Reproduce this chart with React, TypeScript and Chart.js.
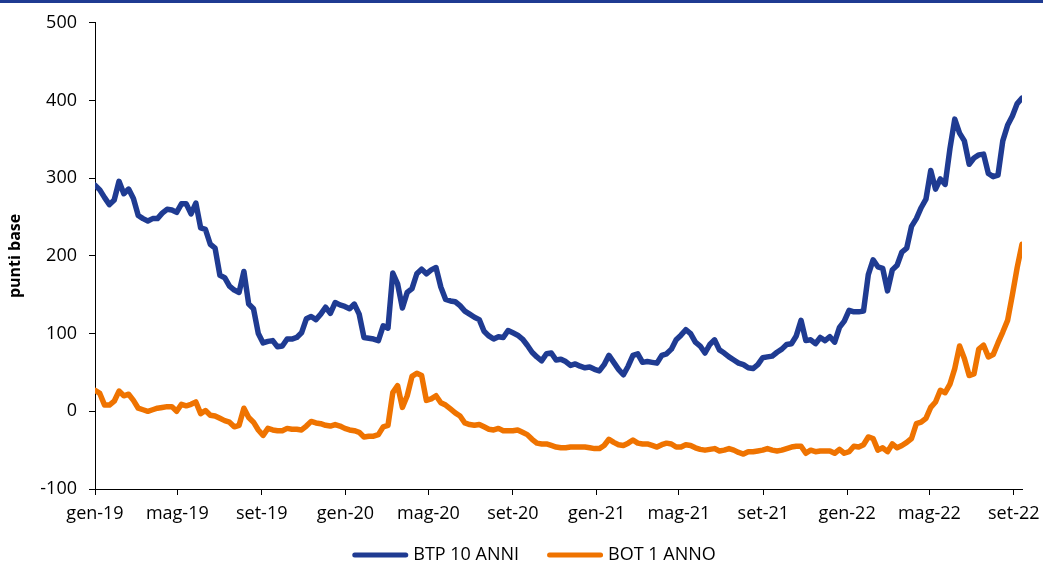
import React, { useEffect, useRef } from "react";
import { Chart, registerables } from "chart.js";

Chart.register(...registerables);

// Weekly observations starting from this date
const START_DATE = "2019-01-01";
const AXIS_END_DATE = "2022-09-13";

const TICK_DATES = [
  "2019-01-01", "2019-05-01", "2019-09-01", "2020-01-01", "2020-05-01", "2020-09-01",
  "2021-01-01", "2021-05-01", "2021-09-01", "2022-01-01", "2022-05-01", "2022-09-01",
];
const TICK_LABELS = [
  "gen-19", "mag-19", "set-19", "gen-20", "mag-20", "set-20",
  "gen-21", "mag-21", "set-21", "gen-22", "mag-22", "set-22",
];

const SERIES_LABELS = ["BTP 10 ANNI", "BOT 1 ANNO"];

const BTP_10Y = [
  291, 285, 275, 266, 272, 296, 280, 286, 274, 252,
  248, 245, 248, 248, 255, 260, 259, 256, 267, 267,
  254, 268, 236, 234, 215, 210, 175, 172, 161, 156,
  153, 180, 138, 132, 100, 88, 90, 91, 83, 84,
  93, 93, 95, 101, 119, 122, 118, 125, 134, 126,
  140, 137, 135, 132, 138, 125, 95, 94, 93, 91,
  110, 107, 178, 164, 133, 153, 158, 177, 183, 177,
  182, 185, 160, 144, 142, 141, 136, 129, 125, 121,
  118, 103, 97, 93, 96, 95, 104, 101, 98, 93,
  85, 76, 70, 65, 74, 75, 66, 67, 64, 59,
  61, 58, 56, 57, 54, 52, 60, 72, 63, 54,
  47, 58, 72, 74, 63, 64, 63, 62, 72, 74,
  80, 92, 98, 105, 100, 89, 84, 75, 86, 92,
  79, 75, 70, 66, 62, 60, 56, 55, 60, 69,
  70, 71, 76, 80, 86, 87, 97, 117, 91, 92,
  87, 95, 91, 96, 89, 108, 116, 130, 128, 128,
  129, 176, 195, 186, 184, 155, 182, 188, 205, 210,
  238, 248, 262, 273, 310, 286, 299, 292, 338, 376,
  358, 348, 318, 326, 330, 331, 306, 302, 304, 348,
  368, 380, 396, 403,
];

const BOT_1Y = [
  27, 23, 8, 8, 13, 26, 20, 22, 14, 4,
  2, 0, 2, 4, 5, 6, 6, 0, 9, 7,
  9, 12, -3, 1, -5, -6, -9, -12, -14, -20,
  -18, 4, -8, -14, -24, -31, -22, -24, -25, -25,
  -22, -23, -23, -24, -19, -13, -15, -16, -18, -19,
  -17, -19, -22, -24, -25, -27, -33, -32, -32, -30,
  -20, -18, 24, 33, 5, 20, 45, 49, 46, 14,
  16, 20, 11, 8, 3, -2, -6, -15, -17, -18,
  -17, -20, -23, -24, -22, -25, -25, -25, -24, -27,
  -30, -36, -41, -42, -42, -44, -46, -47, -47, -46,
  -46, -46, -46, -47, -48, -48, -44, -36, -40, -43,
  -44, -41, -37, -41, -42, -42, -44, -46, -43, -41,
  -42, -46, -46, -43, -44, -47, -49, -50, -49, -48,
  -51, -50, -48, -50, -53, -55, -52, -52, -51, -50,
  -48, -50, -51, -50, -48, -46, -45, -45, -54, -50,
  -52, -51, -51, -51, -54, -49, -54, -52, -45, -46,
  -43, -33, -35, -50, -47, -52, -42, -47, -44, -40,
  -35, -16, -14, -9, 5, 12, 27, 24, 35, 55,
  84, 68, 46, 48, 80, 85, 70, 73, 88, 102,
  117, 150, 185, 215,
];

const BLUE = "#1f3b92";
const ORANGE = "#ef7300";
const FONT = "'Open Sans', sans-serif";

const DAY_MS = 86400000;
const dayOf = (d: string) => (Date.parse(d) - Date.parse(START_DATE)) / DAY_MS;
const TICK_DAYS = TICK_DATES.map(dayOf);
const weekly = (vals: number[]) => vals.map((v, i) => ({ x: i * 7, y: v }));

const bottomLegend = {
  id: "bottomLegend",
  afterDraw(chart: any) {
    const ctx = chart.ctx as CanvasRenderingContext2D;
    ctx.save();
    ctx.font = `18px ${FONT}`;
    const items = chart.data.datasets.map((ds: any) => ({
      label: ds.label as string,
      color: ds.borderColor as string,
      w: 56 + 5 + ctx.measureText(ds.label).width,
    }));
    const gap = 28;
    const total = items.reduce((s: number, it: any) => s + it.w, 0) + gap * (items.length - 1);
    let x = 534 - total / 2;
    const y = 555;
    items.forEach((it: any) => {
      ctx.strokeStyle = it.color;
      ctx.lineWidth = 5;
      ctx.lineCap = "round";
      ctx.beginPath();
      ctx.moveTo(x + 2.5, y);
      ctx.lineTo(x + 53.5, y);
      ctx.stroke();
      ctx.fillStyle = "#000";
      ctx.textBaseline = "middle";
      ctx.textAlign = "left";
      ctx.fillText(it.label, x + 61, y);
      x += it.w + gap;
    });
    ctx.restore();
  },
};

export default function App() {
  const ref = useRef<HTMLCanvasElement | null>(null);

  useEffect(() => {
    document.body.style.margin = "0";
    const canvas = ref.current;
    if (!canvas) return;
    const chart = new Chart(canvas, {
      type: "line",
      data: {
        datasets: [
          {
            label: SERIES_LABELS[0],
            data: weekly(BTP_10Y),
            borderColor: BLUE,
            backgroundColor: BLUE,
            borderWidth: 5.5,
            pointRadius: 0,
            tension: 0,
            borderJoinStyle: "round",
            borderCapStyle: "round",
          },
          {
            label: SERIES_LABELS[1],
            data: weekly(BOT_1Y),
            borderColor: ORANGE,
            backgroundColor: ORANGE,
            borderWidth: 5.5,
            pointRadius: 0,
            tension: 0,
            borderJoinStyle: "round",
            borderCapStyle: "round",
          },
        ],
      },
      options: {
        responsive: false,
        animation: false,
        devicePixelRatio: 1,
        layout: { padding: { top: 20, right: 21, left: 0, bottom: 0 } },
        plugins: {
          legend: { display: false },
          tooltip: { enabled: false },
        },
        scales: {
          x: {
            type: "linear",
            min: 0,
            max: dayOf(AXIS_END_DATE),
            afterBuildTicks: (scale: any) => {
              scale.ticks = TICK_DAYS.map((v) => ({ value: v }));
            },
            afterFit: (scale: any) => {
              scale.height = 75;
              scale.paddingRight = 0;
              scale.paddingLeft = 0;
            },
            ticks: {
              autoSkip: false,
              maxRotation: 0,
              minRotation: 0,
              padding: 8,
              color: "#000",
              font: { family: FONT, size: 18 },
              callback: (v: any) => {
                const idx = TICK_DAYS.indexOf(Number(v));
                return idx >= 0 ? TICK_LABELS[idx] : "";
              },
            },
            grid: {
              display: true,
              drawOnChartArea: false,
              drawTicks: true,
              tickLength: 6,
              color: "#000",
            },
            border: { display: true, color: "#000", width: 1 },
          },
          y: {
            min: -100,
            max: 500,
            afterFit: (scale: any) => {
              scale.width = 95;
            },
            ticks: {
              stepSize: 100,
              padding: 12,
              color: "#000",
              font: { family: FONT, size: 18 },
            },
            grid: {
              display: true,
              drawOnChartArea: false,
              drawTicks: true,
              tickLength: 6,
              color: "#000",
            },
            border: { display: true, color: "#000", width: 1 },
            title: {
              display: true,
              text: "punti base",
              color: "#000",
              font: { family: FONT, size: 16, weight: "bold" },
              padding: { top: 6, bottom: 0 },
            },
          },
        },
      },
      plugins: [bottomLegend],
    } as any);
    return () => chart.destroy();
  }, []);

  return (
    <div style={{ position: "relative", width: 1043, height: 564, background: "#fff" }}>
      <div style={{ position: "absolute", left: 0, top: 0, width: 1043, height: 3, background: BLUE }} />
      <canvas ref={ref} width={1043} height={564} style={{ display: "block" }} />
    </div>
  );
}
